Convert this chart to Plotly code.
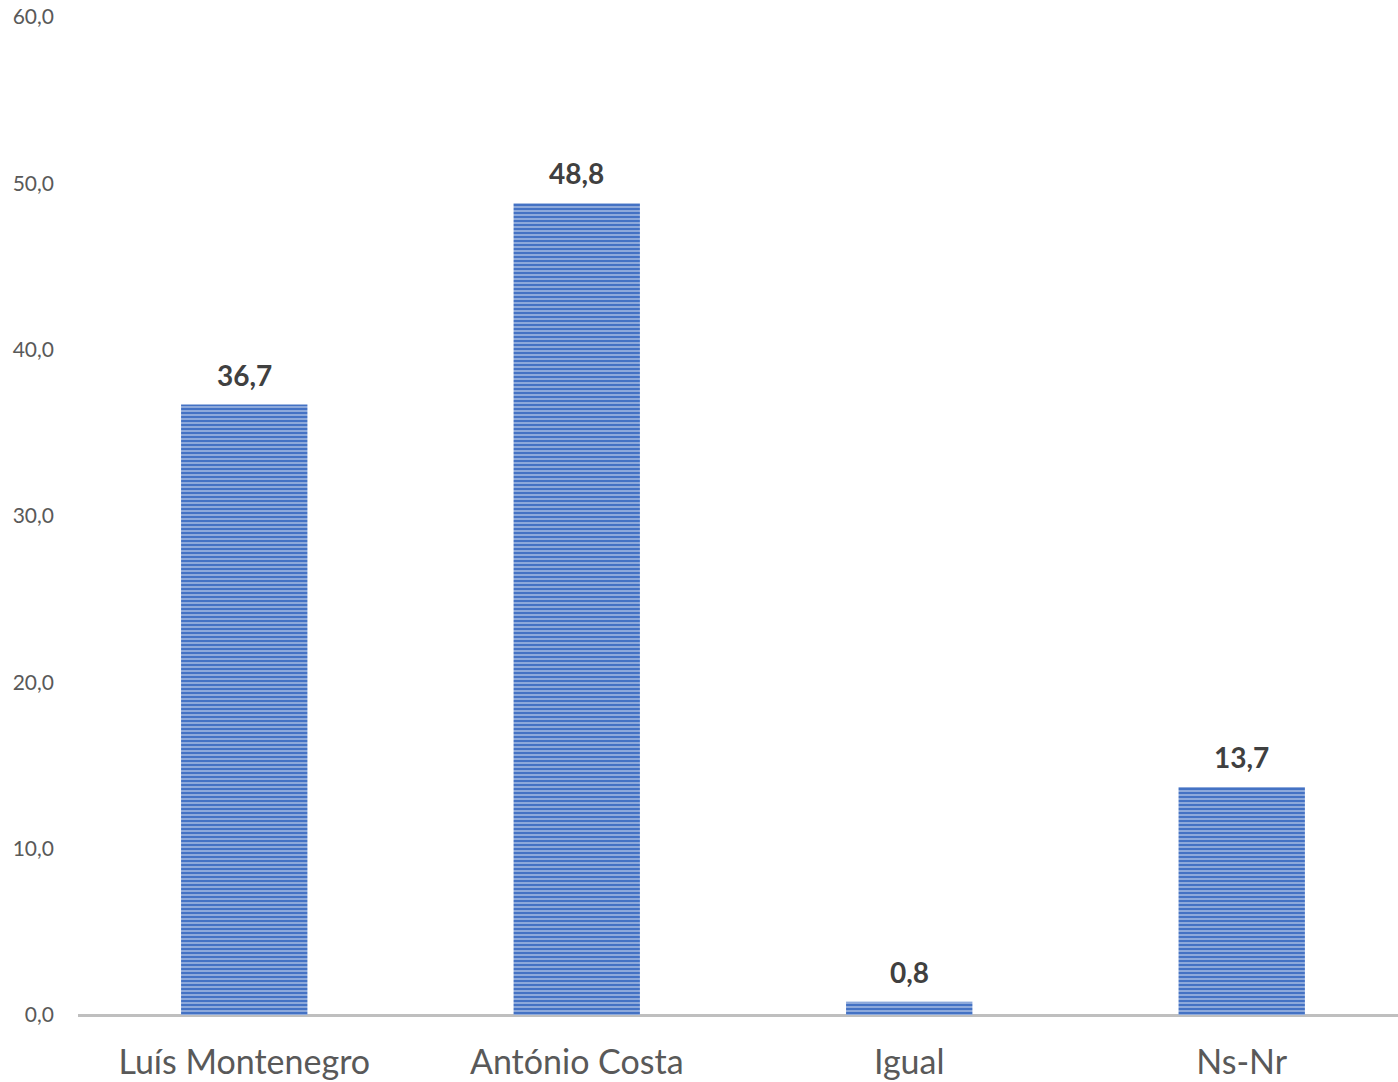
import plotly.graph_objects as go

# Survey results: share of respondents (%)
categories = ["Luís Montenegro", "António Costa", "Igual", "Ns-Nr"]
values = [36.7, 48.8, 0.8, 13.7]
y_ticks = [0, 10, 20, 30, 40, 50, 60]
y_tick_labels = ["0,0", "10,0", "20,0", "30,0", "40,0", "50,0", "60,0"]

labels = [f"{v:.1f}".replace(".", ",") for v in values]

fig = go.Figure(
    go.Bar(
        x=categories,
        y=values,
        width=0.38,
        marker=dict(
            color="#4472C4",
            line=dict(width=0),
            pattern=dict(shape="-", fgcolor="#d5e0f2", bgcolor="#4472C4",
                         size=4, solidity=0.5, fillmode="overlay"),
        ),
    )
)

# Value labels above each bar
for cat, v, lab in zip(categories, values, labels):
    fig.add_annotation(
        x=cat, y=v, text=lab, showarrow=False,
        yanchor="bottom", yshift=11,
        font=dict(family="Lato", size=28, color="#404040", weight="bold"),
    )

fig.update_layout(
    width=1398,
    height=1082,
    margin=dict(l=78, r=0, t=17, b=67),
    paper_bgcolor="white",
    plot_bgcolor="white",
    showlegend=False,
    font=dict(family="Lato"),
    xaxis=dict(
        range=[-0.5, 3.47],
        showgrid=False,
        showline=False,
        zeroline=False,
        ticks="",
        tickfont=dict(family="Lato", size=34, color="#595959"),
        ticklabelstandoff=24,
    ),
    yaxis=dict(
        range=[0, 60],
        tickvals=y_ticks,
        ticktext=y_tick_labels,
        showgrid=False,
        showline=False,
        zeroline=True,
        zerolinecolor="#bfbfbf",
        zerolinewidth=2.5,
        ticks="",
        tickfont=dict(family="Lato", size=21, color="#595959"),
        ticklabelstandoff=23,
    ),
)

fig.write_html("out.html")
